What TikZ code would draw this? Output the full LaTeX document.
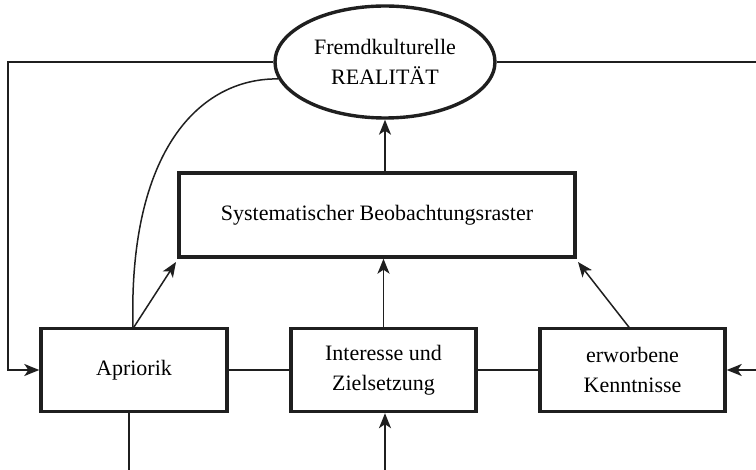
\documentclass[tikz,border=0pt]{standalone}
\usepackage{fontspec}
\setmainfont{Liberation Serif}
\usetikzlibrary{arrows.meta,shapes.geometric}
\begin{document}
\begin{tikzpicture}[x=1pt,y=-1pt,
  box/.style={draw=black!88, line width=3.4pt, rectangle, inner sep=0pt, align=center,
              font=\fontsize{22}{30}\selectfont},
  oval/.style={draw=black!88, line width=3.4pt, ellipse, inner sep=0pt, align=center,
              font=\fontsize{22}{30}\selectfont},
  conn/.style={draw=black!88, line width=1.5pt},
  arr/.style={conn, -{Stealth[length=15pt,width=12pt,inset=4pt]}}]
\useasboundingbox (0,0) rectangle (756,470);
\node[oval, minimum width=220pt, minimum height=112pt] (ell) at (385,62) {Fremdkulturelle\\REALITÄT};
\node[box, minimum width=396pt, minimum height=84pt] (sys) at (377,215) {Systematischer Beobachtungsraster};
\node[box, minimum width=186pt, minimum height=83pt] (apr) at (134,370) {Apriorik};
\node[box, minimum width=185pt, minimum height=83pt] (int) at (383.5,370) {Interesse und\\Zielsetzung};
\node[box, minimum width=185pt, minimum height=83pt] (erw) at (632.5,370) {erworbene\\Kenntnisse};
\coordinate (lc) at (8,200);
\coordinate (rc) at (762,62);
\coordinate (a1) at (176,262);
\coordinate (a3) at (578,262);
\coordinate (b1) at (129,475);
\coordinate (b2) at (385,475);
\coordinate (ap) at (133,328.5);
\coordinate (ep) at (630,328.5);
% connectors
\draw[arr] (ell.west) -| (lc) |- (apr.west);
\draw[arr] (ell.east) -- (rc) |- (erw.east);
\draw[conn] (ap) .. controls (128,150) and (200,78) .. (ell.189);
\draw[arr] (ap) -- (a1);
\draw[arr] (int.north) -- (sys.south -| int.north);
\draw[arr] (ep) -- (a3);
\draw[arr] (sys.north -| ell.south) -- (ell.south);
\draw[conn] (apr.east) -- (int.west);
\draw[conn] (int.east) -- (erw.west);
\draw[conn] (b1 |- apr.south) -- (b1);
\draw[arr] (b2) -- (b2 |- int.south);
\end{tikzpicture}
\end{document}
